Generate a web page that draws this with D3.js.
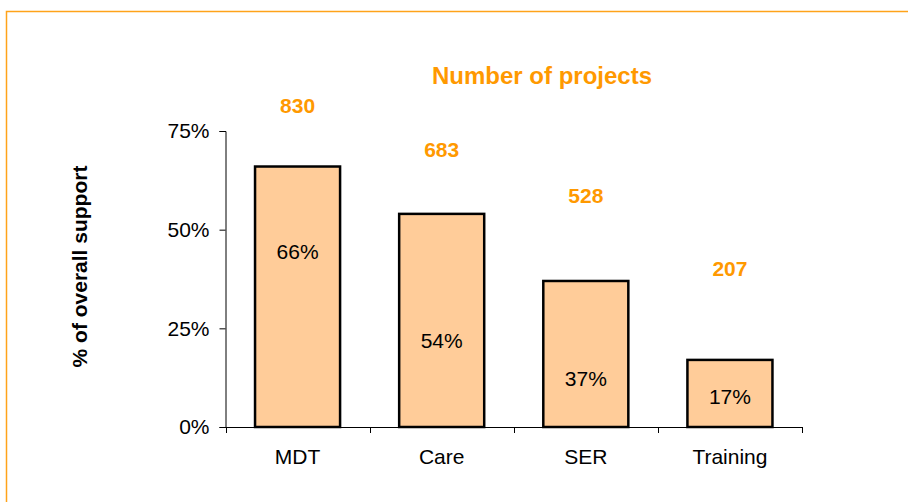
<!DOCTYPE html>
<html>
<head>
<meta charset="utf-8">
<script src="https://cdn.jsdelivr.net/npm/d3@7"></script>
<style>
  body { margin: 0; background: #fff; }
  svg text { font-family: "Liberation Sans", Arial, sans-serif; }
</style>
</head>
<body>
<svg id="chart" width="908" height="502"></svg>
<script>
// data
var categories = ['MDT', 'Care', 'SER', 'Training'];
var support = [0.66, 0.54, 0.37, 0.17];
var projects = [830, 683, 528, 207];
var yTicks = [0, 0.25, 0.5, 0.75];

// where the labels sit, in axis units (as placed in the original)
var pctLabelAt = [0.425, 0.199, 0.104, 0.058];
var projLabelAt = [0.795, 0.685, 0.567, 0.383];

var orange = '#FF9900';

var svg = d3.select('#chart');

// frame
svg.append('rect')
  .attr('x', 6.5).attr('y', 11.5)
  .attr('width', 920).attr('height', 520)
  .attr('fill', 'none')
  .attr('stroke', '#FFA31A')
  .attr('stroke-width', 1.5);

var x = d3.scaleBand()
  .domain(categories)
  .range([225.5, 802])
  .paddingInner(0.41)
  .paddingOuter(0.205);

var y = d3.scaleLinear()
  .domain([0, 0.75])
  .range([427, 131]);

// y axis
var yAxis = svg.append('g')
  .attr('transform', 'translate(225.5,0)')
  .call(d3.axisLeft(y).tickValues(yTicks).tickFormat(d3.format('.0%')).tickSize(6).tickPadding(10));
yAxis.select('.domain').attr('stroke', '#000');
yAxis.selectAll('.tick line').attr('stroke', '#000');
yAxis.selectAll('.tick text')
  .attr('font-size', 21)
  .attr('fill', '#000');

// bars
svg.append('g').selectAll('rect')
  .data(categories)
  .join('rect')
    .attr('x', function(d) { return x(d); })
    .attr('y', function(d, i) { return y(support[i]); })
    .attr('width', x.bandwidth())
    .attr('height', function(d, i) { return y(0) - y(support[i]); })
    .attr('fill', '#FFCC99')
    .attr('stroke', '#000')
    .attr('stroke-width', 2.5);

// x axis (ticks between categories)
var xb = svg.append('g').attr('class', 'x-axis');
xb.append('line')
  .attr('x1', 225.5).attr('x2', 802)
  .attr('y1', 427.5).attr('y2', 427.5)
  .attr('stroke', '#000');
var bounds = categories.map(function(d) { return x(d) - x.step() * x.paddingInner() / 2; })
  .concat([x(categories[categories.length - 1]) + x.bandwidth() + x.step() * x.paddingInner() / 2]);
xb.selectAll('line.tick')
  .data(bounds)
  .join('line')
    .attr('class', 'tick')
    .attr('x1', function(d) { return Math.round(d) + 0.5; })
    .attr('x2', function(d) { return Math.round(d) + 0.5; })
    .attr('y1', 427).attr('y2', 433)
    .attr('stroke', '#000');
xb.selectAll('text')
  .data(categories)
  .join('text')
    .attr('x', function(d) { return x(d) + x.bandwidth() / 2; })
    .attr('y', 463.5)
    .attr('text-anchor', 'middle')
    .attr('font-size', 21)
    .text(function(d) { return d; });

// percentage labels inside bars
svg.append('g').selectAll('text')
  .data(categories)
  .join('text')
    .attr('x', function(d) { return x(d) + x.bandwidth() / 2; })
    .attr('y', function(d, i) { return y(pctLabelAt[i]); })
    .attr('text-anchor', 'middle')
    .attr('font-size', 21)
    .text(function(d, i) { return d3.format('.0%')(support[i]); });

// project counts
svg.append('g').selectAll('text')
  .data(categories)
  .join('text')
    .attr('x', function(d) { return x(d) + x.bandwidth() / 2; })
    .attr('y', function(d, i) { return y(projLabelAt[i]); })
    .attr('text-anchor', 'middle')
    .attr('font-size', 21)
    .attr('font-weight', 'bold')
    .attr('fill', orange)
    .text(function(d, i) { return projects[i]; });

// title
svg.append('text')
  .attr('x', 542).attr('y', 84)
  .attr('text-anchor', 'middle')
  .attr('font-size', 24)
  .attr('font-weight', 'bold')
  .attr('fill', orange)
  .text('Number of projects');

// y title
svg.append('text')
  .attr('transform', 'translate(87,266.5) rotate(-90)')
  .attr('text-anchor', 'middle')
  .attr('font-size', 21)
  .attr('font-weight', 'bold')
  .text('% of overall support');
</script>
</body>
</html>
